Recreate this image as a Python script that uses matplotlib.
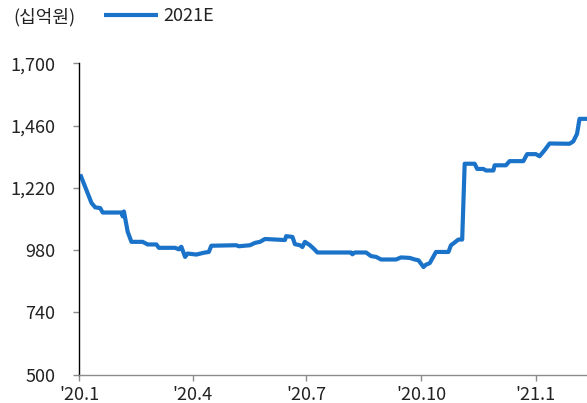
import matplotlib
matplotlib.use("Agg")
import matplotlib.pyplot as plt
from matplotlib.ticker import FuncFormatter
import pandas as pd

plt.rcParams['font.family'] = ['Noto Sans CJK KR', 'DejaVu Sans']

# 2021E operating profit consensus (십억원)
dates = [
    "2020-01-02", "2020-01-11", "2020-01-14", "2020-01-18", "2020-01-20",
    "2020-02-04", "2020-02-05", "2020-02-06", "2020-02-09", "2020-02-12",
    "2020-02-21", "2020-02-25", "2020-03-03", "2020-03-05", "2020-03-18",
    "2020-03-21", "2020-03-22", "2020-03-23", "2020-03-26", "2020-03-28",
    "2020-04-04", "2020-04-10", "2020-04-14", "2020-04-16", "2020-05-06",
    "2020-05-08", "2020-05-17", "2020-05-21", "2020-05-25", "2020-05-29",
    "2020-06-14", "2020-06-15", "2020-06-20", "2020-06-22", "2020-06-26",
    "2020-06-28", "2020-06-30", "2020-07-04", "2020-07-07", "2020-07-10",
    "2020-08-06", "2020-08-07", "2020-08-09", "2020-08-18", "2020-08-22",
    "2020-08-26", "2020-08-30", "2020-09-11", "2020-09-15", "2020-09-22",
    "2020-09-26", "2020-09-29", "2020-10-03", "2020-10-05", "2020-10-08",
    "2020-10-13", "2020-10-23", "2020-10-25", "2020-10-27", "2020-10-31",
    "2020-11-03", "2020-11-05", "2020-11-13", "2020-11-15", "2020-11-20",
    "2020-11-22", "2020-11-28", "2020-11-29", "2020-12-08", "2020-12-11",
    "2020-12-22", "2020-12-25", "2021-01-01", "2021-01-04", "2021-01-08",
    "2021-01-12", "2021-01-28", "2021-01-31", "2021-02-03", "2021-02-05",
    "2021-02-11",
]
values = [
    1272, 1162, 1145, 1142, 1125,
    1125, 1110, 1129, 1051, 1012,
    1012, 1002, 1002, 989, 989,
    983, 989, 993, 954, 967,
    963, 970, 973, 997, 999,
    995, 999, 1008, 1012, 1023,
    1019, 1034, 1031, 1003, 999,
    992, 1012, 999, 986, 971,
    971, 964, 971, 971, 957,
    954, 944, 944, 952, 950,
    944, 941, 915, 924, 930,
    973, 973, 999, 1006, 1021,
    1021, 1313, 1313, 1293, 1293,
    1287, 1287, 1307, 1307, 1323,
    1323, 1350, 1350, 1342, 1365,
    1391, 1390, 1399, 1428, 1486,
    1486,
]

y_ticks = [500, 740, 980, 1220, 1460, 1700]
x_ticks = ["2020-01-01", "2020-04-01", "2020-07-01", "2020-10-01", "2021-01-01"]
x_labels = ["'20.1", "'20.4", "'20.7", "'20.10", "'21.1"]
unit_label = "(십억원)"
series_name = "2021E"

line_color = "#1a73c9"
text_color = "#222222"
fs = 13

fig = plt.figure(figsize=(5.87, 4.03), dpi=100)
ax = fig.add_axes([79 / 587, 0.0702, 1 - 79 / 587, 0.7727])

x = pd.to_datetime(dates)
ax.plot(x, values, color=line_color, lw=3, solid_joinstyle='round',
        solid_capstyle='butt', label=series_name)

ax.set_xlim(pd.Timestamp("2020-01-01"), pd.Timestamp(dates[-1]))
ax.set_ylim(y_ticks[0], y_ticks[-1])
ax.set_yticks(y_ticks)
ax.yaxis.set_major_formatter(FuncFormatter(lambda v, p: f"{int(v):,}"))
ax.set_xticks(pd.to_datetime(x_ticks))
ax.set_xticklabels(x_labels)

for side in ("top", "right"):
    ax.spines[side].set_visible(False)
ax.spines["left"].set_color("#000000")
ax.spines["left"].set_linewidth(1.0)
ax.spines["bottom"].set_color("#8c8c8c")
ax.spines["bottom"].set_linewidth(1.0)

ax.tick_params(axis="y", direction="out", length=4, width=1, color="#8c8c8c",
               labelsize=fs, labelcolor=text_color, pad=13)
ax.tick_params(axis="x", direction="out", length=4, width=1, color="#8c8c8c",
               labelsize=fs, labelcolor=text_color, pad=4)

fig.text(13 / 587, 1 - 17 / 403, unit_label, fontsize=fs, color=text_color,
         ha="left", va="center")
fig.legend(loc="center left", bbox_to_anchor=(104 / 587, 1 - 16 / 403),
           frameon=False, fontsize=fs, handlelength=3.0, handletextpad=0.3,
           borderpad=0, borderaxespad=0, labelcolor=text_color)

fig.savefig("out.png", dpi=100)
